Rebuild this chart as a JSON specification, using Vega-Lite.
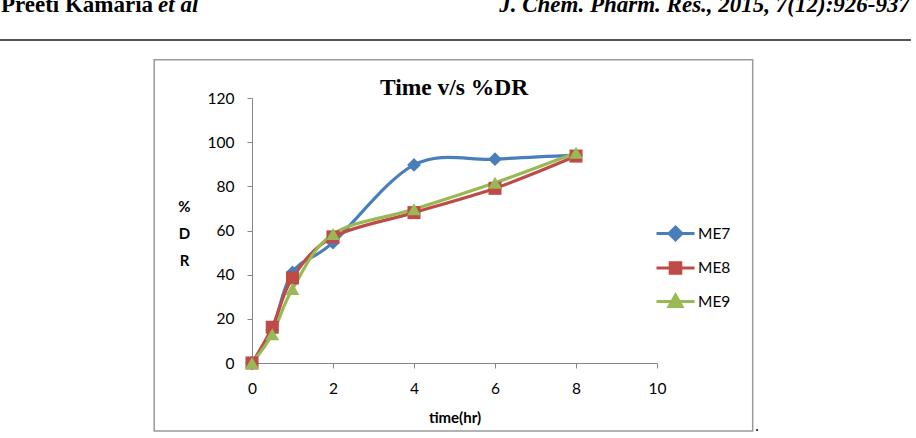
{
  "$schema": "https://vega.github.io/schema/vega-lite/v6.json",
  "width": 405,
  "height": 265,
  "autosize": {"type": "none"},
  "padding": {"left": 252, "top": 98, "right": 259, "bottom": 75},
  "background": "white",
  "datasets": {
    "release": [
      {"t": 0, "dr": 0, "s": "ME7"},
      {"t": 0.5, "dr": 15, "s": "ME7"},
      {"t": 1, "dr": 41, "s": "ME7"},
      {"t": 2, "dr": 54.5, "s": "ME7"},
      {"t": 4, "dr": 89.7, "s": "ME7"},
      {"t": 6, "dr": 92.3, "s": "ME7"},
      {"t": 8, "dr": 94.1, "s": "ME7"},
      {"t": 0, "dr": 0, "s": "ME8"},
      {"t": 0.5, "dr": 16.2, "s": "ME8"},
      {"t": 1, "dr": 38.5, "s": "ME8"},
      {"t": 2, "dr": 57.1, "s": "ME8"},
      {"t": 4, "dr": 68.1, "s": "ME8"},
      {"t": 6, "dr": 79.1, "s": "ME8"},
      {"t": 8, "dr": 93.7, "s": "ME8"},
      {"t": 0, "dr": 0, "s": "ME9"},
      {"t": 0.5, "dr": 13, "s": "ME9"},
      {"t": 1, "dr": 33.5, "s": "ME9"},
      {"t": 2, "dr": 58.4, "s": "ME9"},
      {"t": 4, "dr": 69.6, "s": "ME9"},
      {"t": 6, "dr": 81.6, "s": "ME9"},
      {"t": 8, "dr": 95.2, "s": "ME9"}
    ]
  },
  "config": {
    "view": {"stroke": null},
    "axis": {
      "grid": false,
      "domainColor": "#868686",
      "tickColor": "#868686",
      "tickSize": 5,
      "labelFont": "Lato",
      "labelFontSize": 15.5,
      "labelColor": "#000000",
      "labelFlush": false,
      "titleColor": "#000000"
    }
  },
  "layer": [
    {
      "data": {"values": [{}]},
      "mark": {"type": "rect", "filled": false, "stroke": "#9a9a9a", "strokeWidth": 1.5},
      "encoding": {
        "x": {"datum": -2.415, "type": "quantitative"},
        "x2": {"datum": 12.363},
        "y": {"datum": 137.35, "type": "quantitative"},
        "y2": {"datum": -30.79}
      }
    },
    {
      "data": {"values": [{}]},
      "mark": {"type": "rule", "stroke": "#555555", "strokeWidth": 2},
      "encoding": {
        "x": {"datum": -6.222, "type": "quantitative"},
        "x2": {"datum": 16.27},
        "y": {"datum": 146.3, "type": "quantitative"}
      }
    },
    {
      "data": {"values": [{}]},
      "mark": {"type": "text", "align": "left", "baseline": "alphabetic", "font": "Liberation Serif", "fontSize": 23, "fontWeight": "bold", "color": "#000000"},
      "encoding": {
        "x": {"datum": -6.2, "type": "quantitative"},
        "y": {"datum": 158.9, "type": "quantitative"},
        "text": {"value": "Preeti Kamaria"}
      }
    },
    {
      "data": {"values": [{}]},
      "mark": {"type": "text", "align": "left", "baseline": "alphabetic", "font": "Liberation Serif", "fontSize": 23, "fontWeight": "bold", "fontStyle": "italic", "color": "#000000"},
      "encoding": {
        "x": {"datum": -2.32, "type": "quantitative"},
        "y": {"datum": 158.9, "type": "quantitative"},
        "text": {"value": "et al"}
      }
    },
    {
      "data": {"values": [{}]},
      "mark": {"type": "text", "align": "right", "baseline": "alphabetic", "font": "Liberation Serif", "fontSize": 23, "fontWeight": "bold", "fontStyle": "italic", "color": "#000000"},
      "encoding": {
        "x": {"datum": 16.247, "type": "quantitative"},
        "y": {"datum": 158.9, "type": "quantitative"},
        "text": {"value": "J. Chem. Pharm. Res., 2015, 7(12):926-937"}
      }
    },
    {
      "data": {"values": [{}]},
      "mark": {"type": "text", "align": "left", "baseline": "alphabetic", "font": "Liberation Serif", "fontSize": 16, "color": "#000000"},
      "encoding": {
        "x": {"datum": 12.42, "type": "quantitative"},
        "y": {"datum": -30.6, "type": "quantitative"},
        "text": {"value": "."}
      }
    },
    {
      "data": {"values": [{}]},
      "mark": {"type": "text", "align": "center", "baseline": "alphabetic", "font": "Liberation Serif", "fontSize": 23.5, "fontWeight": "bold", "color": "#000000"},
      "encoding": {
        "x": {"datum": 4.99, "type": "quantitative"},
        "y": {"datum": 121.4, "type": "quantitative"},
        "text": {"value": "Time v/s %DR"}
      }
    },
    {
      "data": {"name": "release"},
      "mark": {"type": "line", "interpolate": "cardinal", "strokeWidth": 3.2},
      "encoding": {
        "x": {
          "field": "t",
          "type": "quantitative",
          "scale": {"domain": [0, 10], "nice": false, "zero": false},
          "axis": {
            "values": [0, 2, 4, 6, 8, 10],
            "title": "time(hr)",
            "titleFont": "Lato",
            "titleFontSize": 15,
            "titleFontWeight": "bold",
            "labelPadding": 13,
            "titlePadding": 14
          }
        },
        "y": {
          "field": "dr",
          "type": "quantitative",
          "scale": {"domain": [0, 120], "nice": false, "zero": false},
          "axis": {
            "values": [0, 20, 40, 60, 80, 100, 120],
            "title": ["%", "D", "R"],
            "titleFont": "Lato",
            "titleFontSize": 15,
            "titleFontWeight": "bold",
            "titleAngle": 0,
            "titleAlign": "center",
            "titleBaseline": "middle",
            "titleLineHeight": 27,
            "titleX": -68,
            "titleY": 108,
            "labelPadding": 13
          }
        },
        "color": {
          "field": "s",
          "type": "nominal",
          "scale": {"domain": ["ME7", "ME8", "ME9"], "range": ["#4A7EBB", "#BE4B48", "#98B954"]},
          "legend": {
            "title": null,
            "orient": "none",
            "legendX": 403,
            "legendY": 115,
            "padding": 0,
            "labelFont": "Lato",
            "labelFontSize": 15.5,
            "labelColor": "#000000",
            "labelOffset": 2,
            "symbolSize": 1444,
            "symbolStrokeWidth": 3,
            "rowPadding": 1.5,
            "encode": {
              "symbols": {
                "update": {
                  "shape": {"signal": "datum.value === 'ME7' ? 'M-1,0H1M0,-0.34L0.34,0L0,0.34L-0.34,0Z' : datum.value === 'ME8' ? 'M-1,0H1M-0.28,-0.28H0.28V0.28H-0.28Z' : 'M-1,0H1M0,-0.34L0.34,0.26H-0.34Z'"},
                  "fill": {"signal": "datum.value === 'ME7' ? '#4A7EBB' : datum.value === 'ME8' ? '#BE4B48' : '#98B954'"},
                  "stroke": {"signal": "datum.value === 'ME7' ? '#4A7EBB' : datum.value === 'ME8' ? '#BE4B48' : '#98B954'"},
                  "strokeWidth": {"value": 3},
                  "opacity": {"value": 1}
                }
              }
            }
          }
        }
      }
    },
    {
      "data": {"name": "release"},
      "transform": [{"filter": "datum.s === 'ME7'"}],
      "mark": {"type": "point", "shape": "diamond", "filled": true, "opacity": 1, "size": 190, "color": "#4A7EBB"},
      "encoding": {
        "x": {"field": "t", "type": "quantitative"},
        "y": {"field": "dr", "type": "quantitative"}
      }
    },
    {
      "data": {"name": "release"},
      "transform": [{"filter": "datum.s === 'ME8'"}],
      "mark": {"type": "point", "shape": "square", "filled": true, "opacity": 1, "size": 170, "color": "#BE4B48"},
      "encoding": {
        "x": {"field": "t", "type": "quantitative"},
        "y": {"field": "dr", "type": "quantitative"}
      }
    },
    {
      "data": {"name": "release"},
      "transform": [{"filter": "datum.s === 'ME9'"}],
      "mark": {"type": "point", "shape": "triangle-up", "filled": true, "opacity": 1, "size": 190, "color": "#98B954"},
      "encoding": {
        "x": {"field": "t", "type": "quantitative"},
        "y": {"field": "dr", "type": "quantitative"}
      }
    }
  ]
}
